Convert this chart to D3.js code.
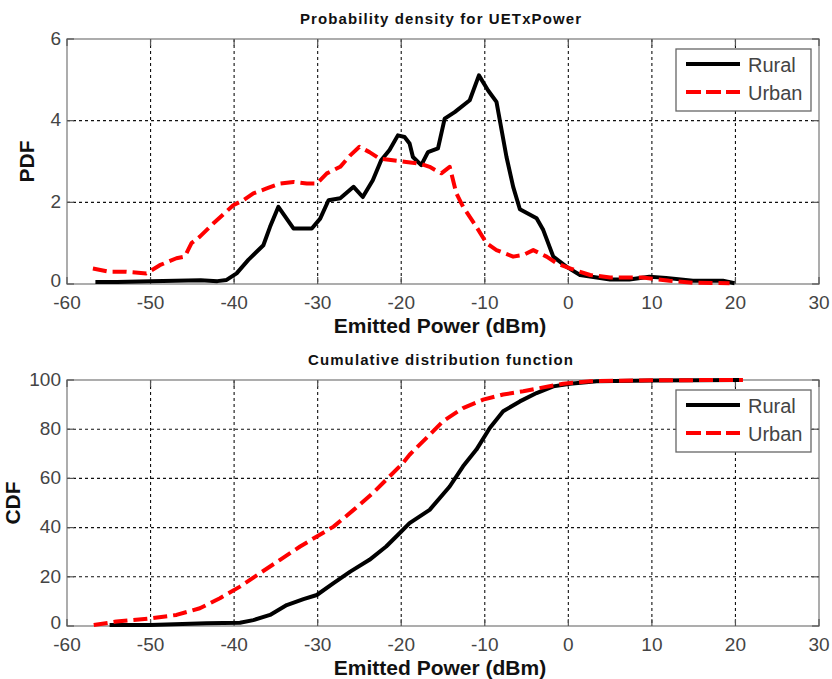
<!DOCTYPE html>
<html>
<head>
<meta charset="utf-8">
<script src="https://cdn.jsdelivr.net/npm/d3@7"></script>
<style>
  html, body { margin: 0; padding: 0; background: #fff; }
  svg { display: block; font-family: "Liberation Sans", Arial, Helvetica, sans-serif; }
</style>
</head>
<body>
<svg id="chart" width="832" height="679"></svg>
<script>
// Emitted power axis (dBm)
const xDomain = [-60, 30];
const xTicks = [-60, -50, -40, -30, -20, -10, 0, 10, 20, 30];

// PDF panel
const pdfTicks = [0, 2, 4, 6];
const pdfRuralX = [-56.6, -54, -50, -47, -44, -42, -40.9, -39.7, -38.3, -36.5, -35.7, -34.7, -32.9, -30.7, -29.7, -28.7, -27.3, -25.7, -24.6, -23.4, -22.4, -21.4, -20.4, -19.6, -19.0, -18.6, -17.6, -16.8, -15.6, -14.8, -13.6, -11.8, -10.7, -9.6, -8.6, -7.4, -6.6, -5.8, -3.8, -3.0, -1.8, -0.2, 1.4, 5.0, 7.3, 9.7, 11.7, 14.9, 18.5, 19.9];
const pdfRural  = [0.05, 0.05, 0.07, 0.08, 0.09, 0.07, 0.10, 0.26, 0.59, 0.95, 1.40, 1.89, 1.36, 1.36, 1.60, 2.05, 2.10, 2.38, 2.13, 2.54, 3.03, 3.28, 3.64, 3.60, 3.44, 3.11, 2.91, 3.23, 3.32, 4.05, 4.21, 4.50, 5.11, 4.74, 4.46, 3.11, 2.38, 1.83, 1.61, 1.32, 0.67, 0.42, 0.22, 0.11, 0.11, 0.18, 0.15, 0.08, 0.08, 0.02];
const pdfUrbanX = [-56.9, -54.9, -52.9, -50.5, -48.9, -46.9, -45.9, -45.1, -44.1, -42.5, -40.1, -38.9, -37.7, -36.1, -34.5, -32.9, -31.3, -30.1, -28.9, -27.3, -26.1, -25.0, -23.8, -22.6, -21.0, -19.4, -17.8, -16.6, -15.2, -14.2, -13.4, -12.6, -11.0, -9.8, -8.6, -6.6, -5.4, -4.2, -2.6, -1.4, 0.2, 2.6, 5.0, 8.9, 12.1, 14.9, 19.3];
const pdfUrban  = [0.38, 0.30, 0.30, 0.26, 0.46, 0.63, 0.67, 1.00, 1.16, 1.48, 1.93, 2.05, 2.22, 2.34, 2.46, 2.50, 2.46, 2.46, 2.71, 2.87, 3.15, 3.36, 3.23, 3.07, 3.03, 2.99, 2.95, 2.87, 2.71, 2.87, 2.22, 1.89, 1.40, 1.00, 0.83, 0.67, 0.71, 0.83, 0.67, 0.51, 0.38, 0.22, 0.16, 0.16, 0.08, 0.03, 0.02];

// CDF panel (%)
const cdfTicks = [0, 20, 40, 60, 80, 100];
const cdfRuralX = [-54.9, -50, -43.3, -39.3, -37.7, -35.7, -33.7, -31.7, -30.1, -28.1, -26.1, -23.8, -21.8, -20.2, -19.0, -16.6, -14.2, -12.6, -11.0, -9.4, -7.8, -5.8, -3.8, -1.8, 0.2, 3.4, 10, 20.5];
const cdfRural  = [0.4, 0.4, 1.1, 1.3, 2.4, 4.5, 8.5, 10.9, 12.6, 17.4, 22.1, 26.9, 32.3, 37.7, 41.8, 47.2, 56.7, 64.9, 71.7, 80.5, 87.3, 91.3, 94.7, 97.4, 98.5, 99.5, 99.8, 100];
const cdfUrbanX = [-56.8, -54.1, -50, -46.9, -44.1, -41.7, -39.3, -36.9, -34.5, -32.1, -30.1, -28.1, -25.7, -23.4, -21.4, -19.8, -19.0, -17.0, -15.0, -12.6, -10.2, -7.8, -5.4, -3.0, -0.6, 2.6, 10, 20.9];
const cdfUrban  = [0.4, 1.8, 3.1, 4.5, 7.2, 11.3, 16.0, 21.5, 26.9, 32.3, 36.4, 40.4, 47.2, 54.0, 60.8, 66.2, 69.6, 76.4, 83.2, 88.6, 92.0, 94.1, 95.4, 97.0, 98.5, 99.5, 99.9, 100];

const seriesNames = ["Rural", "Urban"];
const seriesColors = ["#000000", "#ff0000"];

const svg = d3.select("#chart");
const left = 67, right = 819;

function panel(opt) {
  const x = d3.scaleLinear().domain(xDomain).range([left, right]);
  const y = d3.scaleLinear().domain(opt.yDomain).range([opt.bottom, opt.top]);
  const g = svg.append("g");

  // grid
  const grid = g.append("g").attr("stroke", "#111").attr("stroke-width", 1.1)
    .attr("stroke-dasharray", "3,3").attr("fill", "none");
  xTicks.slice(1, -1).forEach(t => {
    grid.append("line").attr("x1", x(t)).attr("x2", x(t)).attr("y1", opt.top).attr("y2", opt.bottom);
  });
  opt.yTicks.slice(1, -1).forEach(t => {
    grid.append("line").attr("x1", left).attr("x2", right).attr("y1", y(t)).attr("y2", y(t));
  });

  // frame and inward ticks
  g.append("rect").attr("x", left).attr("y", opt.top)
    .attr("width", right - left).attr("height", opt.bottom - opt.top)
    .attr("fill", "none").attr("stroke", "#8a8a8a").attr("stroke-width", 1.4);
  const tk = g.append("g").attr("stroke", "#555").attr("stroke-width", 1.2);
  xTicks.forEach(t => {
    tk.append("line").attr("x1", x(t)).attr("x2", x(t)).attr("y1", opt.bottom).attr("y2", opt.bottom - 7);
    tk.append("line").attr("x1", x(t)).attr("x2", x(t)).attr("y1", opt.top).attr("y2", opt.top + 7);
  });
  opt.yTicks.forEach(t => {
    tk.append("line").attr("x1", left).attr("x2", left + 7).attr("y1", y(t)).attr("y2", y(t));
    tk.append("line").attr("x1", right).attr("x2", right - 7).attr("y1", y(t)).attr("y2", y(t));
  });

  // tick labels
  const lab = g.append("g").attr("fill", "#444").attr("font-size", 19);
  xTicks.forEach(t => {
    lab.append("text").attr("x", x(t)).attr("y", opt.bottom + 25)
      .attr("text-anchor", "middle").text(t);
  });
  opt.yTicks.forEach(t => {
    lab.append("text").attr("x", left - 6).attr("y", y(t)).attr("dy", t === 0 ? "0.18em" : "0.3em")
      .attr("text-anchor", "end").text(t);
  });

  // titles and labels
  g.append("text").attr("x", (left + right) / 2 - 2).attr("y", opt.top - 15)
    .attr("text-anchor", "middle").attr("font-weight", "bold").attr("font-size", 15)
    .attr("letter-spacing", 1.1).attr("fill", "#111").text(opt.title);
  g.append("text").attr("x", (left + right) / 2 - 3).attr("y", opt.bottom + 49)
    .attr("text-anchor", "middle").attr("font-weight", "bold").attr("font-size", 21)
    .attr("fill", "#111").text("Emitted Power (dBm)");
  g.append("text")
    .attr("transform", `translate(${opt.ylabelX},${(opt.top + opt.bottom) / 2}) rotate(-90)`)
    .attr("text-anchor", "middle").attr("font-weight", "bold").attr("font-size", 21)
    .attr("fill", "#111").text(opt.ylabel);

  // curves
  const line = d3.line().x(d => x(d[0])).y(d => y(d[1]));
  opt.series.forEach((s, i) => {
    const pts = s.xs.map((v, k) => [v, s.ys[k]]);
    g.append("path").datum(pts).attr("d", line).attr("fill", "none")
      .attr("stroke", seriesColors[i]).attr("stroke-width", 4)
      .attr("stroke-linejoin", "round")
      .attr("stroke-dasharray", i === 1 ? "14,6" : null);
  });

  // legend
  const lx = 676, ly = opt.top + 10;
  const lg = g.append("g");
  lg.append("rect").attr("x", lx).attr("y", ly).attr("width", 135).attr("height", 62)
    .attr("fill", "#fff").attr("stroke", "#666").attr("stroke-width", 1.3);
  seriesNames.forEach((n, i) => {
    const yy = ly + 15 + i * 28;
    lg.append("line").attr("x1", lx + 10).attr("x2", lx + 64).attr("y1", yy).attr("y2", yy)
      .attr("stroke", seriesColors[i]).attr("stroke-width", 4)
      .attr("stroke-dasharray", i === 1 ? "15,5" : null);
    lg.append("text").attr("x", lx + 72).attr("y", yy + 8).attr("font-size", 20)
      .attr("fill", "#444").text(n);
  });
}

panel({
  top: 39, bottom: 284, yDomain: [0, 6], yTicks: pdfTicks,
  title: "Probability density for UETxPower", ylabel: "PDF", ylabelX: 34,
  series: [{ xs: pdfRuralX, ys: pdfRural }, { xs: pdfUrbanX, ys: pdfUrban }]
});
panel({
  top: 380, bottom: 626, yDomain: [0, 100], yTicks: cdfTicks,
  title: "Cumulative distribution function", ylabel: "CDF", ylabelX: 20,
  series: [{ xs: cdfRuralX, ys: cdfRural }, { xs: cdfUrbanX, ys: cdfUrban }]
});
</script>
</body>
</html>
